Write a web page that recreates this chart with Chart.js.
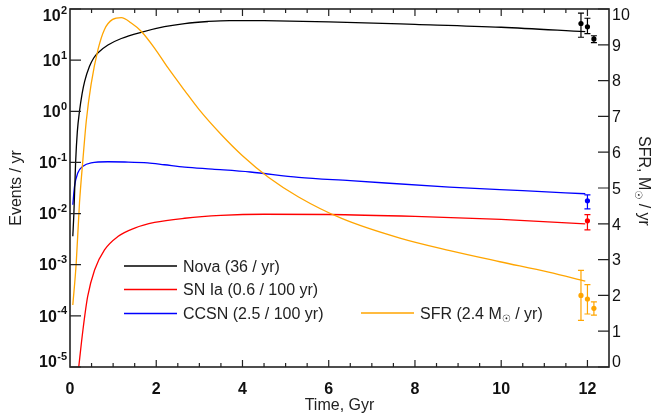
<!DOCTYPE html>
<html>
<head>
<meta charset="utf-8">
<script src="https://cdn.jsdelivr.net/npm/chart.js@4.4.1/dist/chart.umd.min.js"></script>
<style>
  html, body { margin: 0; padding: 0; background: #fff; }
  canvas { display: block; }
</style>
</head>
<body>
<canvas id="c" width="652" height="416"></canvas>
<script>
// ---- model curves (time in Gyr) ----
const novaTime = [0.065, 0.09, 0.13, 0.17, 0.22, 0.28, 0.34, 0.45, 0.55, 0.65, 0.88, 1.19, 1.65, 2.19, 2.66, 3.2, 3.7, 4.5, 6.0, 8.0, 10.0, 11.95];
const novaRate = [0.0036, 0.01, 0.1, 0.4, 1.0, 2.2, 3.85, 7.5, 11.0, 14.0, 19.8, 26.5, 35, 45, 52, 57, 59.5, 59, 56, 50, 44, 36];

const snIaTime = [0.19, 0.3, 0.41, 0.57, 0.8, 1.11, 1.5, 1.96, 2.66, 3.5, 4.5, 6.0, 8.0, 10.0, 11.95];
const snIaRate = [0.000008, 0.000053, 0.00024, 0.00079, 0.00195, 0.00356, 0.0052, 0.0067, 0.0081, 0.0092, 0.0097, 0.0096, 0.0088, 0.0077, 0.0063];

const ccsnTime = [0.065, 0.105, 0.18, 0.3, 0.49, 0.88, 1.27, 1.8, 2.19, 2.66, 3.3, 4.18, 5.3, 6.5, 8.8, 10.5, 11.95];
const ccsnRate = [0.0149, 0.034, 0.062, 0.084, 0.098, 0.103, 0.102, 0.098, 0.090, 0.081, 0.074, 0.065, 0.051, 0.044, 0.033, 0.028, 0.0244];

const sfrTime = [0.065, 0.144, 0.22, 0.3, 0.38, 0.49, 0.65, 0.8, 0.99, 1.19, 1.42, 1.65, 1.96, 2.27, 2.66, 3.0, 3.5, 4.0, 4.6, 5.3, 6.3, 7.65, 8.81, 9.97, 11.1, 11.95];
const sfrRate = [1.73, 2.9, 4.58, 5.8, 6.9, 7.9, 8.87, 9.43, 9.71, 9.76, 9.61, 9.38, 8.91, 8.36, 7.72, 7.18, 6.5, 5.9, 5.3, 4.75, 4.15, 3.6, 3.25, 2.94, 2.65, 2.4];

// ---- observed values with error ranges ----
const novaObsTime = [11.85, 12.0, 12.15];
const novaObs     = [52, 45, 26];
const novaObsLow  = [28, 33, 22];
const novaObsHigh = [83, 66, 30];

const snIaObsTime = [12.0];
const snIaObs     = [0.0072];
const snIaObsLow  = [0.0048];
const snIaObsHigh = [0.0095];

const ccsnObsTime = [12.0];
const ccsnObs     = [0.0178];
const ccsnObsLow  = [0.0124];
const ccsnObsHigh = [0.0233];

const sfrObsTime = [11.85, 12.0, 12.15];
const sfrObs     = [2.0, 1.9, 1.64];
const sfrObsLow  = [1.3, 1.48, 1.45];
const sfrObsHigh = [2.7, 2.3, 1.82];

// ---- axis ticks ----
const timeTicks = [0, 2, 4, 6, 8, 10, 12];
const rateTicks = [1e-5, 1e-4, 1e-3, 1e-2, 1e-1, 1e0, 1e1, 1e2];
const rateTickExp = ['-5', '-4', '-3', '-2', '-1', '0', '1', '2'];
const sfrTicks = [0, 1, 2, 3, 4, 5, 6, 7, 8, 9, 10];

const labels = {
  nova: 'Nova (36 / yr)',
  snIa: 'SN Ia (0.6 / 100 yr)',
  ccsn: 'CCSN (2.5 / 100 yr)',
  sfr:  'SFR (2.4 M\u2609 / yr)'
};
const colors = { nova: '#000000', snIa: '#ff0000', ccsn: '#0000ff', sfr: '#ffa500' };

const FONT = '"Liberation Sans", Arial, "DejaVu Sans", sans-serif';

function pts(xs, ys) { return xs.map((x, i) => ({ x: x, y: ys[i] })); }

function curve(key, xs, ys, axis) {
  return {
    type: 'line', label: labels[key], data: pts(xs, ys), yAxisID: axis,
    borderColor: colors[key], borderWidth: 1.3, pointRadius: 0,
    cubicInterpolationMode: 'monotone', fill: false
  };
}
function obs(key, xs, ys, lo, hi, axis) {
  return {
    type: 'line', label: key + ' obs', data: pts(xs, ys), yAxisID: axis,
    showLine: false, pointRadius: 2.6, pointBorderWidth: 0,
    pointBackgroundColor: colors[key], borderColor: colors[key],
    errLow: lo, errHigh: hi
  };
}

// text with a subscript solar symbol
function drawWithSun(ctx, text, x, baseline, align) {
  const parts = text.split('\u2609');
  ctx.textAlign = 'left';
  ctx.textBaseline = 'alphabetic';
  const big = '16px ' + FONT, small = '10px "DejaVu Sans", sans-serif';
  ctx.font = big;
  const w0 = ctx.measureText(parts[0]).width;
  const w2 = parts.length > 1 ? ctx.measureText(parts[1]).width : 0;
  ctx.font = small;
  const ws = parts.length > 1 ? ctx.measureText('\u2609').width : 0;
  const sx = align === 'center' ? x - (w0 + ws + w2) / 2 : x;
  ctx.font = big;
  ctx.fillText(parts[0], sx, baseline);
  if (parts.length > 1) {
    ctx.font = small;
    ctx.fillText('\u2609', sx + w0, baseline + 3.5);
    ctx.font = big;
    ctx.fillText(parts[1], sx + w0 + ws, baseline);
  }
}

const frame = {
  id: 'frame',
  afterDatasetsDraw(chart) {
    const { ctx, chartArea: a, scales } = chart;
    const sx = scales.x, yl = scales.y, yr = scales.y2;
    ctx.save();

    // error bars
    chart.data.datasets.forEach(ds => {
      if (!ds.errLow) return;
      const sy = scales[ds.yAxisID];
      ctx.strokeStyle = ds.borderColor;
      ctx.lineWidth = 1.2;
      ds.data.forEach((p, i) => {
        const px = sx.getPixelForValue(p.x);
        const y1 = sy.getPixelForValue(ds.errLow[i]);
        const y2 = sy.getPixelForValue(ds.errHigh[i]);
        ctx.beginPath();
        ctx.moveTo(px, y1); ctx.lineTo(px, y2);
        ctx.moveTo(px - 3, y1); ctx.lineTo(px + 3, y1);
        ctx.moveTo(px - 3, y2); ctx.lineTo(px + 3, y2);
        ctx.stroke();
      });
    });

    // frame
    ctx.strokeStyle = '#222';
    ctx.lineWidth = 1.6;
    ctx.strokeRect(a.left, a.top, a.right - a.left, a.bottom - a.top);

    // time ticks, bottom and top
    ctx.lineWidth = 1.2;
    ctx.beginPath();
    for (let t = 0.5; t < sx.max; t += 0.5) {
      const px = sx.getPixelForValue(t);
      const len = timeTicks.includes(t) ? 7 : 4;
      ctx.moveTo(px, a.bottom); ctx.lineTo(px, a.bottom - len);
      ctx.moveTo(px, a.top); ctx.lineTo(px, a.top + len);
    }
    // rate ticks (left)
    rateTicks.forEach(v => {
      const py = yl.getPixelForValue(v);
      ctx.moveTo(a.left, py); ctx.lineTo(a.left + 11, py);
    });
    // SFR ticks (right)
    sfrTicks.forEach(v => {
      const py = yr.getPixelForValue(v);
      ctx.moveTo(a.right, py); ctx.lineTo(a.right - 11, py);
    });
    ctx.stroke();

    ctx.fillStyle = '#111';
    // bottom tick labels
    ctx.font = 'bold 16px ' + FONT;
    ctx.textAlign = 'center';
    ctx.textBaseline = 'alphabetic';
    timeTicks.forEach(v => ctx.fillText(String(v), sx.getPixelForValue(v), 393.5));

    // left tick labels: 10^n
    ctx.textAlign = 'right';
    rateTicks.forEach((v, i) => {
      const py = Math.min(Math.max(yl.getPixelForValue(v), 15), 361);
      ctx.font = 'bold 11px ' + FONT;
      const ew = ctx.measureText(rateTickExp[i]).width;
      ctx.fillText(rateTickExp[i], 67, py - 1.5);
      ctx.font = 'bold 16px ' + FONT;
      ctx.fillText('10', 67 - ew - 0.3, py + 5.7);
    });

    // right tick labels
    ctx.font = '16px ' + FONT;
    ctx.textAlign = 'left';
    sfrTicks.forEach(v => {
      const py = Math.min(Math.max(yr.getPixelForValue(v), 14.5), 361);
      ctx.fillText(String(v), a.right + 3, py + 5.7);
    });

    // axis titles
    ctx.fillStyle = '#222';
    ctx.font = '16px ' + FONT;
    ctx.textAlign = 'center';
    ctx.fillText('Time, Gyr', (a.left + a.right) / 2, 410);

    const midY = (a.top + a.bottom) / 2;
    ctx.save();
    ctx.translate(17, midY);
    ctx.rotate(-Math.PI / 2);
    ctx.textBaseline = 'middle';
    ctx.fillText('Events / yr', 0, 0);
    ctx.restore();

    ctx.save();
    ctx.translate(644, midY - 7);
    ctx.rotate(Math.PI / 2);
    drawWithSun(ctx, 'SFR, M\u2609 / yr', 0, 5.5, 'center');
    ctx.restore();

    // legend
    const rows = [
      { key: 'nova', x: 124, y: 266 },
      { key: 'snIa', x: 124, y: 289.5 },
      { key: 'ccsn', x: 124, y: 313.5 },
      { key: 'sfr',  x: 361, y: 313 }
    ];
    rows.forEach(r => {
      ctx.strokeStyle = colors[r.key];
      ctx.lineWidth = 1.3;
      ctx.beginPath();
      ctx.moveTo(r.x, r.y); ctx.lineTo(r.x + 53, r.y);
      ctx.stroke();
      ctx.fillStyle = '#222';
      drawWithSun(ctx, labels[r.key], r.x + 59, r.y + 5.7, 'left');
    });

    ctx.restore();
  }
};

new Chart(document.getElementById('c'), {
  data: {
    datasets: [
      curve('sfr', sfrTime, sfrRate, 'y2'),
      curve('nova', novaTime, novaRate, 'y'),
      curve('snIa', snIaTime, snIaRate, 'y'),
      curve('ccsn', ccsnTime, ccsnRate, 'y'),
      obs('nova', novaObsTime, novaObs, novaObsLow, novaObsHigh, 'y'),
      obs('snIa', snIaObsTime, snIaObs, snIaObsLow, snIaObsHigh, 'y'),
      obs('ccsn', ccsnObsTime, ccsnObs, ccsnObsLow, ccsnObsHigh, 'y'),
      obs('sfr', sfrObsTime, sfrObs, sfrObsLow, sfrObsHigh, 'y2')
    ]
  },
  options: {
    responsive: false,
    animation: false,
    devicePixelRatio: 1,
    layout: { padding: { left: 70, right: 43, top: 9, bottom: 49 } },
    plugins: { legend: { display: false }, tooltip: { enabled: false } },
    scales: {
      x:  { type: 'linear', min: 0, max: 12.5, display: false },
      y:  { type: 'logarithmic', min: 1e-5, max: 100, display: false },
      y2: { type: 'linear', min: 0, max: 10, display: false, position: 'right' }
    }
  },
  plugins: [frame]
});
</script>
</body>
</html>
